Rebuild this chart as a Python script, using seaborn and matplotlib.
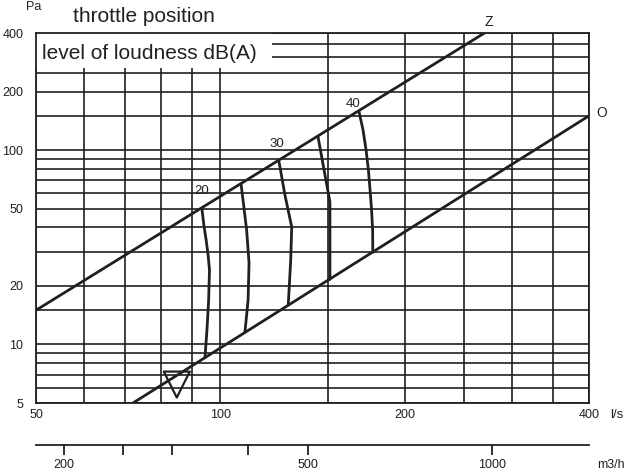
import numpy as np
import pandas as pd
import matplotlib
matplotlib.use("Agg")
import matplotlib.pyplot as plt
from matplotlib.ticker import NullFormatter, NullLocator
from matplotlib.patches import Rectangle
import seaborn as sns

# Achsen / Gitter
flow_ticks = [50, 100, 200, 400]
flow_minor = [60, 70, 80, 90, 150, 250, 300, 350]
pressure_ticks = [5, 10, 20, 50, 100, 200, 400]
pressure_minor = [6, 7, 8, 9, 15, 30, 40, 60, 70, 80, 90, 150, 250, 300, 350]
m3h_ticks = [200, 250, 300, 400, 500, 1000]
m3h_labels = ["200", "", "", "", "500", "1000"]

# Drosselstellung Z (zu) und O (offen)
z_flow = [50, 270]
z_pressure = [15, 400]
o_flow = [72, 400]
o_pressure = [5, 150]

# Schallpegel-Kurven dB(A)
curve_20_flow = [93.3, 94.0, 94.8, 95.5, 96.0, 95.7, 95.1, 94.4]
curve_20_pressure = [50, 41.1, 34.5, 28.9, 24.2, 16.9, 11.9, 8.6]
curve_25_flow = [108.1, 110.4, 111.4, 111.0, 109.7]
curve_25_pressure = [67, 38.8, 26.2, 16.9, 11.6]
curve_30_flow = [124.7, 127.5, 130.8, 130.3, 129.1]
curve_30_pressure = [87, 58.7, 40.2, 27.2, 16.0]
curve_35_flow = [144.4, 147.7, 151.0, 151.0]
curve_35_pressure = [117, 79, 54.1, 21.6]
curve_40_flow = [168.5, 171.0, 173.0, 174.5, 175.6, 176.6, 177.3, 177.4]
curve_40_pressure = [157, 127, 100, 79, 62.3, 49.2, 38.8, 29.8]

# Betriebspunkt (Dreieck)
point_flow = [84.9]
point_pressure = [6.22]

ink = "#231f20"

sns.set_style("white")
plt.rcParams["font.family"] = ["Liberation Sans", "DejaVu Sans"]

fig = plt.figure(figsize=(6.28, 4.73), dpi=100)
ax = fig.add_axes([36 / 628, 70 / 473, 553 / 628, 370 / 473])

ax.set_xscale("log")
ax.set_yscale("log")
ax.set_xlim(50, 400)
ax.set_ylim(5, 400)

ax.set_xticks(flow_ticks, labels=[str(v) for v in flow_ticks])
ax.set_xticks(flow_minor, minor=True)
ax.set_yticks(pressure_ticks, labels=[str(v) for v in pressure_ticks])
ax.set_yticks(pressure_minor, minor=True)
ax.xaxis.set_minor_formatter(NullFormatter())
ax.yaxis.set_minor_formatter(NullFormatter())
ax.tick_params(which="both", length=0, labelsize=9, colors=ink)
ax.tick_params(axis="x", pad=4)
ax.tick_params(axis="y", pad=9)

ax.set_axisbelow(True)
ax.grid(which="both", color=ink, linewidth=1.2)
for sp in ax.spines.values():
    sp.set_color(ink)
    sp.set_linewidth(1.3)

# weisses Feld hinter der Beschriftung
ax.add_patch(Rectangle((0, 0.905), 0.427, 0.095, transform=ax.transAxes,
                       facecolor="white", edgecolor="none", zorder=1))
ax.text(0.011, 0.944, "level of loudness dB(A)", transform=ax.transAxes,
        fontsize=15, color=ink, va="center", ha="left", zorder=3)

sns.lineplot(x=z_flow, y=z_pressure, ax=ax, color=ink, linewidth=2, sort=False, estimator=None)
sns.lineplot(x=o_flow, y=o_pressure, ax=ax, color=ink, linewidth=2, sort=False, estimator=None)

curves = [
    (curve_20_flow, curve_20_pressure),
    (curve_25_flow, curve_25_pressure),
    (curve_30_flow, curve_30_pressure),
    (curve_35_flow, curve_35_pressure),
    (curve_40_flow, curve_40_pressure),
]
for fl, pr in curves:
    sns.lineplot(x=fl, y=pr, ax=ax, color=ink, linewidth=2, sort=False, estimator=None)

sns.scatterplot(x=point_flow, y=point_pressure, ax=ax, marker="v", s=350,
                facecolors="none", edgecolor=ink, linewidth=1.6, zorder=5, legend=False)

# Kurvenbeschriftung
ax.annotate("20", xy=(curve_20_flow[0], curve_20_pressure[0]), xytext=(0, 13),
            textcoords="offset points", ha="center", va="center", fontsize=9.5, color=ink)
ax.annotate("30", xy=(curve_30_flow[0], curve_30_pressure[0]), xytext=(-1.5, 13),
            textcoords="offset points", ha="center", va="center", fontsize=9.5, color=ink)
ax.annotate("40", xy=(curve_40_flow[0], curve_40_pressure[0]), xytext=(-4.5, 6),
            textcoords="offset points", ha="center", va="center", fontsize=9.5, color=ink)
ax.annotate("Z", xy=(z_flow[-1], z_pressure[-1]), xytext=(3, 8), textcoords="offset points",
            ha="center", va="center", fontsize=10, color=ink, annotation_clip=False)
ax.annotate("O", xy=(o_flow[-1], o_pressure[-1]), xytext=(9.5, 2), textcoords="offset points",
            ha="center", va="center", fontsize=10, color=ink, annotation_clip=False)

# zweite Achse m3/h
sec = ax.secondary_xaxis(-0.1135, functions=(lambda q: q * 3.6, lambda m: m / 3.6))
sec.set_xticks(m3h_ticks, labels=m3h_labels)
sec.xaxis.set_minor_locator(NullLocator())
sec.tick_params(direction="out", length=7, width=1.3, labelsize=9, colors=ink, pad=3)
sec.spines["bottom"].set_color(ink)
sec.spines["bottom"].set_linewidth(1.3)

fig.text(34 / 628, 1 - 7 / 473, "Pa", fontsize=9, color=ink, ha="center", va="center")
fig.text(73 / 628, 1 - 17 / 473, "throttle position", fontsize=15, color=ink, ha="left", va="center")
fig.text(617 / 628, 1 - 415 / 473, "l/s", fontsize=9.5, color=ink, ha="center", va="center")
fig.text(611 / 628, 1 - 465 / 473, "m3/h", fontsize=9, color=ink, ha="center", va="center")

fig.savefig("out.png", dpi=100)
